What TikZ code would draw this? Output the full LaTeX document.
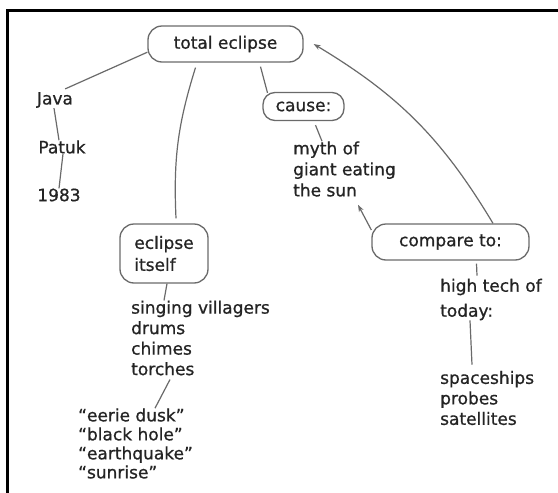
\documentclass[tikz,border=0pt]{standalone}
\usepackage{fontspec}
\setmainfont{DejaVu Sans}[FakeBold=0.8]
\usetikzlibrary{arrows.meta}
\definecolor{ink}{HTML}{242424}
\definecolor{wire}{HTML}{6A6A6A}

\begin{document}
\begin{tikzpicture}[x=1pt,y=-1pt,
  txt/.style={font=\fontsize{17}{20.5}\selectfont, text=ink, inner sep=0pt, align=left},
  bubble/.style={draw=wire, line width=1.3pt, rounded corners=14pt,
    font=\fontsize{17}{22}\selectfont, text=ink, inner sep=0pt, align=left},
  link/.style={draw=wire, line width=1.2pt},
  arr/.style={link, -{Stealth[length=7pt,width=5pt]}}]
\useasboundingbox (0,0) rectangle (558,493);
\fill[white] (0,0) rectangle (558,493);
% frame along the top and left side
\draw[line width=3pt] (7,495) -- (7,10) -- (560,10);

% boxed concepts
\node[bubble, minimum width=155pt, minimum height=36pt] (te) at (225.5,44) {total eclipse};
\node[bubble, minimum width=81pt, minimum height=28pt, rounded corners=12pt] (cause) at (303.5,106.5) {cause:};
\node[bubble, minimum width=157pt, minimum height=36pt] (cmp) at (450.5,242) {compare to:};
\node[bubble, minimum width=88pt, minimum height=59pt] (itself) at (164,253.5) {eclipse\\itself};

% plain text entries
\node[txt] (java) at (55,100) {Java};
\node[txt] (patuk) at (62,147) {Patuk};
\node[txt] (yr) at (59,195) {1983};
\node[txt, anchor=west, font=\fontsize{17}{21}\selectfont] (myth) at (293,169) {myth of\\giant eating\\the sun};
\node[txt, anchor=west] (vil) at (131,338) {singing villagers\\drums\\chimes\\torches};
\node[txt, anchor=west, font=\fontsize{17}{19}\selectfont] (quo) at (78,443.5) {“eerie dusk”\\“black hole”\\“earthquake”\\“sunrise”};
\node[txt, anchor=west, font=\fontsize{17}{25}\selectfont] (ht) at (440,299.5) {high tech of\\today:};
\node[txt, anchor=west] (sp) at (440,398) {spaceships\\probes\\satellites};

% connectors
\draw[link] (te.186) -- ([xshift=-8pt,yshift=3pt]java.north east);
\draw[link] ([xshift=-1pt]java.south) -- ([xshift=-3pt]patuk.north);
\draw[link] ([xshift=1pt]patuk.south) -- (yr.north);
\draw[link] ([xshift=-30pt,yshift=-5pt]te.south) to[bend right=10] ([xshift=12pt,yshift=5pt]itself.north);
\draw[link] ([xshift=35pt,yshift=-4pt]te.south) -- ([xshift=-36pt,yshift=-1pt]cause.north);
\draw[link] ([xshift=12pt,yshift=-4pt]cause.south) -- ([xshift=29pt]myth.north west);
\draw[arr] ([yshift=12pt]cmp.west) -- ([xshift=65pt,yshift=-8pt]myth.south west);
\draw[arr] ([xshift=42.5pt]cmp.north) to[bend right=14] ([xshift=10pt]te.east);
\draw[link] ([xshift=26pt,yshift=-3pt]cmp.south) -- ([xshift=37pt,yshift=3pt]ht.north west);
\draw[link] ([xshift=30pt]ht.south west) -- ([xshift=32pt,yshift=6pt]sp.north west);
\draw[link] ([xshift=3pt]itself.south) -- ([xshift=33pt]vil.north west);
\draw[link] ([xshift=39pt,yshift=-4pt]vil.south west) -- ([xshift=77pt]quo.north west);
\end{tikzpicture}
\end{document}
